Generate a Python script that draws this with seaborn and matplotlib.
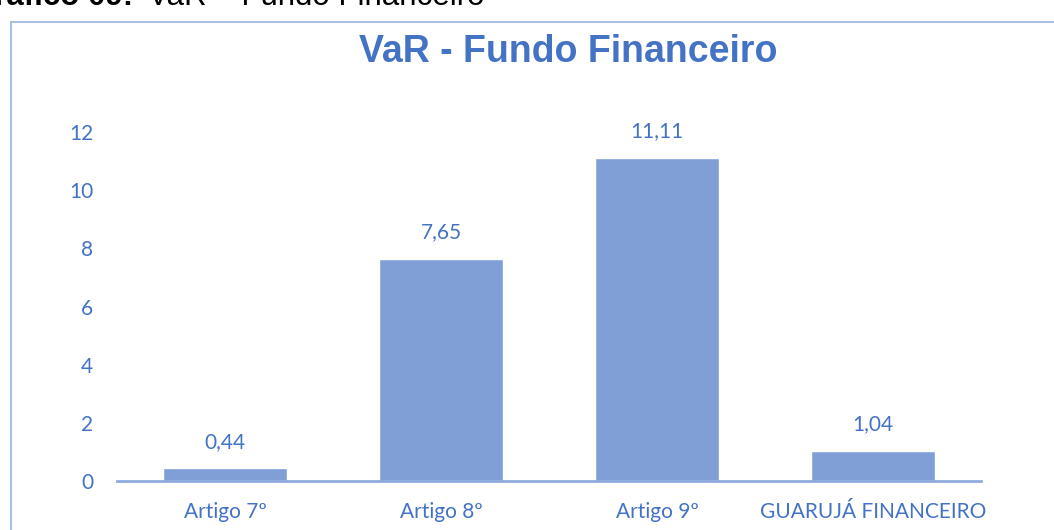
import pandas as pd
import seaborn as sns
import matplotlib.pyplot as plt
from matplotlib.patches import Rectangle

# dados do grafico
categorias = ['Artigo 7º', 'Artigo 8º', 'Artigo 9º', 'GUARUJÁ FINANCEIRO']
valores = [0.44, 7.65, 11.11, 1.04]
rotulos = ['0,44', '7,65', '11,11', '1,04']
yticks = [0, 2, 4, 6, 8, 10, 12]

azul_texto = '#4472C4'
azul_barra = '#7F9FD6'
azul_linha = '#A9BFE6'

tabela = pd.DataFrame({'categoria': categorias, 'valor': valores})

sns.set_style('white')
plt.rcParams['font.family'] = ['Lato', 'DejaVu Sans']

fig = plt.figure(figsize=(10.54, 5.30), dpi=100)
ax = fig.add_axes([117 / 1054, 1 - 481 / 530, 864 / 1054, 349 / 530])

sns.barplot(data=tabela, x='categoria', y='valor', color=azul_barra,
            saturation=1, width=0.574, ax=ax)

for i, (v, r) in enumerate(zip(valores, rotulos)):
    ax.annotate(r, (i, v), xytext=(0, 19), textcoords='offset points',
                ha='center', va='center', fontsize=15, color=azul_texto)

ax.set_xlim(-0.5, 3.5)
ax.set_ylim(0, 12)
ax.set_yticks(yticks)
ax.set_yticklabels([str(t) for t in yticks])
ax.set_xlabel('')
ax.set_ylabel('')
ax.tick_params(axis='y', length=0, pad=17, labelsize=15, labelcolor=azul_texto)
ax.tick_params(axis='x', length=0, pad=15, labelsize=15, labelcolor=azul_texto)
for lado in ['top', 'right', 'left']:
    ax.spines[lado].set_visible(False)
ax.spines['bottom'].set_color('#8FAADC')
ax.spines['bottom'].set_linewidth(2)

# titulo do grafico
fig.text(568 / 1054, 1 - 52 / 530, 'VaR - Fundo Financeiro', ha='center', va='center',
         fontsize=27, fontweight='bold', color=azul_texto, family='Liberation Sans')

# legenda cortada do documento
fig.text(133 / 1054, 1 - 5 / 530, 'Gráfico 09:', ha='right', va='baseline', fontsize=22.5,
         fontweight='bold', color='black', family='Liberation Sans')
fig.text(148 / 1054, 1 - 5 / 530, 'VaR – Fundo Financeiro', ha='left', va='baseline',
         fontsize=22.5, color='black', family='Liberation Sans')

# borda da caixa do grafico
fig.patches.append(Rectangle((11 / 1054, -0.1), 1.2, 1 - 22 / 530 + 0.1,
                             transform=fig.transFigure, fill=False,
                             edgecolor=azul_linha, linewidth=1.5))

fig.savefig('out.png', dpi=100)
